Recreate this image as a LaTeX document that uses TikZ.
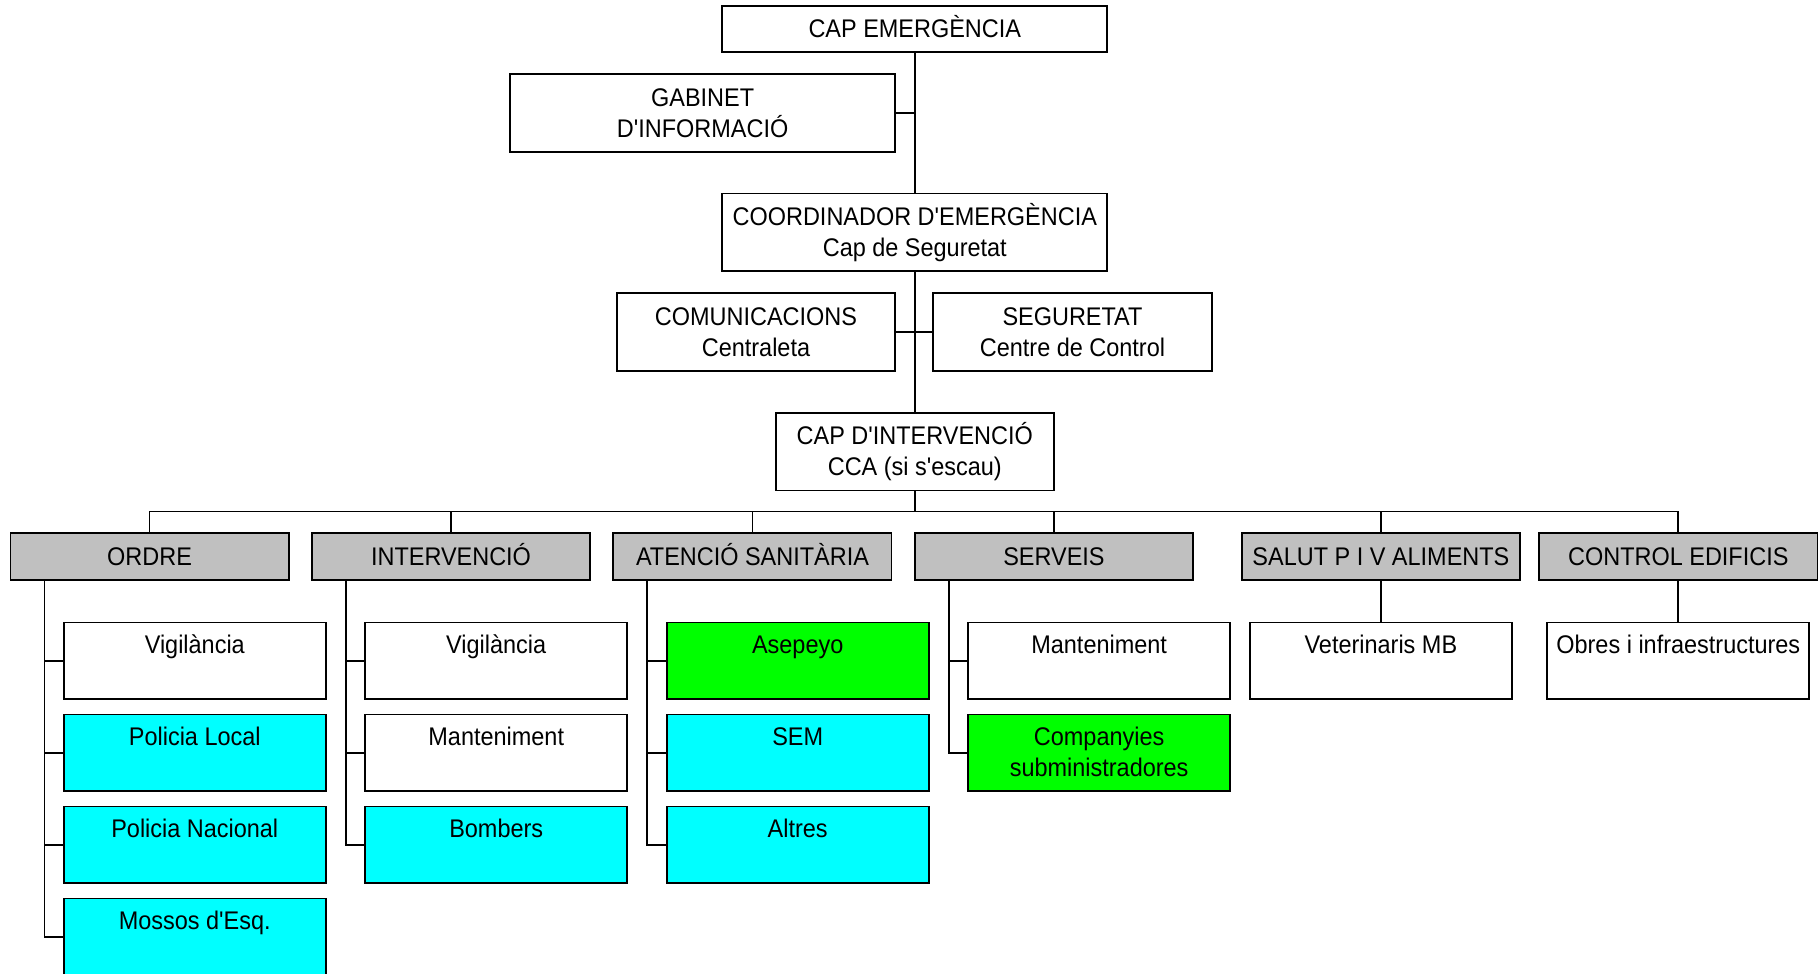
\documentclass[tikz,border=0pt]{standalone}
\usepackage{fontspec}
\setmainfont{Liberation Sans}[FakeStretch=0.92, Ligatures=TeXOff]
\definecolor{grisa}{HTML}{C0C0C0}
\definecolor{cian}{HTML}{00FFFF}
\definecolor{verd}{HTML}{00FF00}
\begin{document}
\begin{tikzpicture}[
    x=0.5pt, y=-0.5pt,
    font=\fontsize{11}{13.5}\selectfont,
    caixa/.style={draw, line width=0.75pt, align=center, inner sep=0pt,
      minimum width=120pt, minimum height=33.5pt},
    ample/.style={caixa, minimum width=166pt},
    area/.style={caixa, fill=grisa, minimum height=20pt,
      text height=8.2pt, text depth=0.6pt},
    sub/.style={draw, line width=0.75pt, inner sep=0pt,
      minimum width=113pt, minimum height=33pt},
    rot/.style={anchor=north, align=center, inner sep=0pt, yshift=-5pt,
      text height=8.5pt},
    lin/.style={line width=0.7pt},
  ]
  \useasboundingbox (0,0) rectangle (1568,840);
  \clip (0,0) rectangle (1568,840);

  % direccio
  \node[ample, minimum height=20pt, text height=8.2pt, text depth=0.6pt]
    (cap) at (789,25) {CAP EMERGÈNCIA};
  \node[ample] (gabinet) at (606,97.5) {GABINET\\D'INFORMACIÓ};
  \node[ample] (coord) at (789,200.5) {COORDINADOR D'EMERGÈNCIA\\Cap de Seguretat};
  \node[caixa] (comunic) at (652,286.5) {COMUNICACIONS\\Centraleta};
  \node[caixa] (segur) at (925,286.5) {SEGURETAT\\Centre de Control};
  \node[caixa] (capint) at (789,389.5) {CAP D'INTERVENCIÓ\\CCA (si s'escau)};

  \draw[lin] (cap.south) -- (coord.north);
  \draw[lin] (gabinet.east) -- (gabinet.east -| cap.south);
  \draw[lin] (coord.south) -- (capint.north);
  \draw[lin] (comunic.east) -- (segur.west);

  % grups
  \node[area] (ordre) at (129,480) {ORDRE};
  \node[area] (interv) at (389,480) {INTERVENCIÓ};
  \node[area] (sanit) at (649,480) {ATENCIÓ SANITÀRIA};
  \node[area] (serveis) at (909,480) {SERVEIS};
  \node[area] (salut) at (1191,480) {SALUT P I V ALIMENTS};
  \node[area] (control) at (1447.5,480) {CONTROL EDIFICIS};

  \coordinate (bus) at (789,441);
  \draw[lin] (capint.south) -- (bus);
  \draw[lin] (ordre.north) |- (bus) -| (control.north);
  \foreach \g in {interv,sanit,serveis,salut}
    \draw[lin] (\g.north) -- (\g.north |- bus);

  % ordre
  \node[sub, label={[rot]north:Vigilància}] (o1) at (168,570) {};
  \node[sub, fill=cian, label={[rot]north:Policia Local}] (o2) at (168,649.3) {};
  \node[sub, fill=cian, label={[rot]north:Policia Nacional}] (o3) at (168,728.6) {};
  \node[sub, fill=cian, label={[rot]north:Mossos d'Esq.}] (o4) at (168,808) {};

  % intervencio
  \node[sub, label={[rot]north:Vigilància}] (i1) at (428,570) {};
  \node[sub, label={[rot]north:Manteniment}] (i2) at (428,649.3) {};
  \node[sub, fill=cian, label={[rot]north:Bombers}] (i3) at (428,728.6) {};

  % atencio sanitaria
  \node[sub, fill=verd, label={[rot]north:Asepeyo}] (a1) at (688,570) {};
  \node[sub, fill=cian, label={[rot]north:SEM}] (a2) at (688,649.3) {};
  \node[sub, fill=cian, label={[rot]north:Altres}] (a3) at (688,728.6) {};

  % serveis
  \node[sub, label={[rot]north:Manteniment}] (s1) at (948,570) {};
  \node[sub, fill=verd, label={[rot, text height=22pt]north:Companyies\\subministradores}]
    (s2) at (948,649.3) {};

  % salut i control
  \node[sub, label={[rot]north:Veterinaris MB}] (v1) at (1191,570) {};
  \node[sub, label={[rot]north:Obres i infraestructures}] (c1) at (1447.5,570) {};

  \draw[lin] (salut.south) -- (v1.north);
  \draw[lin] (control.south) -- (c1.north);

  % lineas laterals
  \coordinate (os) at ([xshift=15pt]ordre.south west);
  \coordinate (is) at ([xshift=15pt]interv.south west);
  \coordinate (as) at ([xshift=15pt]sanit.south west);
  \coordinate (ss) at ([xshift=15pt]serveis.south west);
  \draw[lin] (os) |- (o4.west);
  \draw[lin] (is) |- (i3.west);
  \draw[lin] (as) |- (a3.west);
  \draw[lin] (ss) |- (s2.west);
  \foreach \n in {o1,o2,o3} \draw[lin] (\n.west) -- (\n.west -| os);
  \foreach \n in {i1,i2} \draw[lin] (\n.west) -- (\n.west -| is);
  \foreach \n in {a1,a2} \draw[lin] (\n.west) -- (\n.west -| as);
  \draw[lin] (s1.west) -- (s1.west -| ss);
\end{tikzpicture}
\end{document}
